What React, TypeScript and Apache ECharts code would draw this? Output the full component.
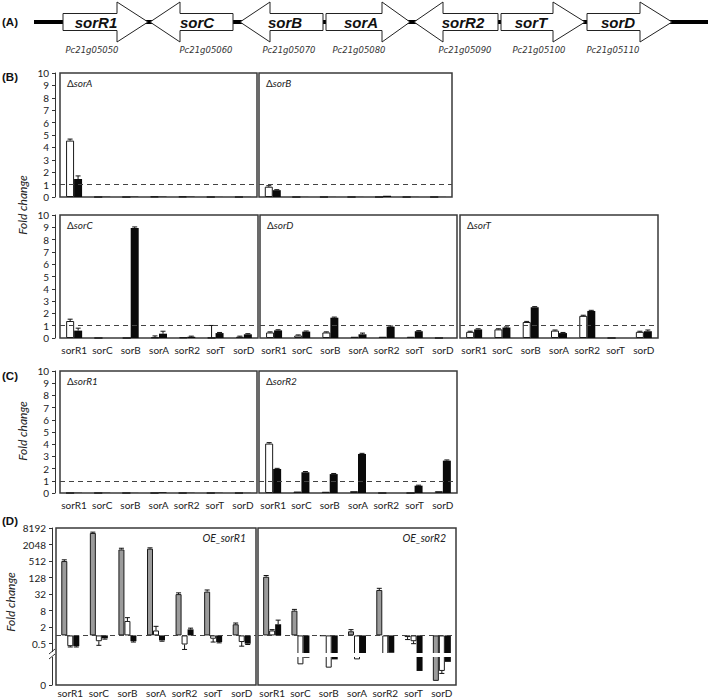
import React, { useEffect, useRef } from 'react';
import * as echarts from 'echarts';

// ---------- data ----------
const genes = ['sorR1', 'sorC', 'sorB', 'sorA', 'sorR2', 'sorT', 'sorD'];
const geneIds = ['Pc21g05050', 'Pc21g05060', 'Pc21g05070', 'Pc21g05080', 'Pc21g05090', 'Pc21g05100', 'Pc21g05110'];
const geneDirs = [1, -1, -1, 1, -1, 1, 1];
const logTickLabels = ['0.5', '2', '8', '32', '128', '512', '2048', '8192'];
const log2ZeroLevel = -6; // axis position drawn as "0" below the break

// (B) deletion mutants, fold change (white / black)
const dSorA_white = [4.55, 0, 0, 0.03, 0.03, 0, 0];
const dSorA_black = [1.45, 0.02, 0.03, 0.03, 0.03, 0.01, 0.01];
const dSorA_whiteErr = [0.12, 0, 0, 0, 0, 0, 0];
const dSorA_blackErr = [0.25, 0, 0, 0, 0, 0, 0];

const dSorB_white = [0.83, 0, 0, 0, 0, 0, 0];
const dSorB_black = [0.55, 0.01, 0.01, 0.01, 0.1, 0.01, 0.01];
const dSorB_whiteErr = [0.08, 0, 0, 0, 0, 0, 0];
const dSorB_blackErr = [0.04, 0, 0, 0, 0, 0, 0];

const dSorC_white = [1.38, 0, 0, 0.05, 0.05, 0.02, 0.1];
const dSorC_black = [0.6, 0, 8.95, 0.35, 0.1, 0.4, 0.3];
const dSorC_whiteErr = [0.15, 0, 0, 0.12, 0, 1.0, 0.05];
const dSorC_blackErr = [0.2, 0, 0.08, 0.2, 0.05, 0.05, 0.05];

const dSorD_white = [0.45, 0.2, 0.45, 0.1, 0.1, 0.1, 0];
const dSorD_black = [0.62, 0.52, 1.65, 0.3, 0.92, 0.55, 0];
const dSorD_whiteErr = [0.05, 0.05, 0.05, 0, 0, 0, 0];
const dSorD_blackErr = [0.05, 0.05, 0.05, 0.1, 0.05, 0.05, 0];

const dSorT_white = [0.5, 0.7, 1.3, 0.6, 1.8, 0, 0.5];
const dSorT_black = [0.7, 0.85, 2.5, 0.4, 2.2, 0, 0.55];
const dSorT_whiteErr = [0.05, 0.05, 0.05, 0.05, 0.05, 0, 0.05];
const dSorT_blackErr = [0.05, 0.05, 0.05, 0.05, 0.05, 0, 0.1];

// (C)
const dSorR1_white = [0, 0, 0, 0, 0, 0, 0];
const dSorR1_black = [0.02, 0.02, 0.01, 0.06, 0.02, 0.02, 0.01];
const dSorR1_whiteErr = [0, 0, 0, 0, 0, 0, 0];
const dSorR1_blackErr = [0, 0, 0, 0, 0, 0, 0];

const dSorR2_white = [4.05, 0.12, 0.1, 0.15, 0, 0, 0.15];
const dSorR2_black = [1.97, 1.7, 1.55, 3.2, 0, 0.6, 2.65];
const dSorR2_whiteErr = [0.08, 0, 0, 0, 0, 0, 0];
const dSorR2_blackErr = [0.05, 0.06, 0.05, 0.05, 0, 0.04, 0.06];

// (D) over-expression, log2 fold change (gray / white / black)
const oeR1_gray = [9, 12.4, 10.4, 10.5, 5.0, 5.3, 1.35];
const oeR1_white = [-1.3, -0.7, 1.75, 0.6, -1.1, -0.4, -0.8];
const oeR1_black = [-1.3, -0.35, -0.7, -0.6, 0.73, -0.8, -1.0];
const oeR1_grayErr = [0.15, 0.1, 0.15, 0.1, 0.15, 0.2, 0.15];
const oeR1_whiteErr = [0.1, 0.5, 0.4, 0.5, 0.6, 0.4, 0.5];
const oeR1_blackErr = [0.1, 0.1, 0.1, 0.1, 0.15, 0.1, 0.1];

const oeR2_gray = [7.1, 3.0, -0.05, 0.5, 5.5, -0.2, -5.5];
const oeR2_white = [0.6, -3.5, -3.9, -2.9, -2.6, -0.7, -4.3];
const oeR2_black = [1.35, -2.7, -2.9, -2.6, -2.1, -4.3, -3.2];
const oeR2_grayErr = [0.15, 0.15, 0, 0.2, 0.2, 0.3, 0];
const oeR2_whiteErr = [0.1, 0, 0, 0, 0, 0.3, 0.3];
const oeR2_blackErr = [0.5, 0, 0, 0, 0, 0, 0];

// ---------- layout ----------
type S = { vals: number[]; err: number[]; kind: 'white' | 'black' | 'gray' };
type P = { label: string; oe?: boolean; box: number[]; log?: boolean; yAxis: boolean; xLabels: boolean; series: S[] };

const panels: P[] = [
  { label: 'sorA', box: [60, 73, 197, 124], yAxis: true, xLabels: false, series: [
    { vals: dSorA_white, err: dSorA_whiteErr, kind: 'white' }, { vals: dSorA_black, err: dSorA_blackErr, kind: 'black' }] },
  { label: 'sorB', box: [259, 73, 193, 124], yAxis: false, xLabels: false, series: [
    { vals: dSorB_white, err: dSorB_whiteErr, kind: 'white' }, { vals: dSorB_black, err: dSorB_blackErr, kind: 'black' }] },
  { label: 'sorC', box: [60, 215, 198, 123], yAxis: true, xLabels: true, series: [
    { vals: dSorC_white, err: dSorC_whiteErr, kind: 'white' }, { vals: dSorC_black, err: dSorC_blackErr, kind: 'black' }] },
  { label: 'sorD', box: [260, 215, 197, 123], yAxis: false, xLabels: true, series: [
    { vals: dSorD_white, err: dSorD_whiteErr, kind: 'white' }, { vals: dSorD_black, err: dSorD_blackErr, kind: 'black' }] },
  { label: 'sorT', box: [460, 215, 198, 123], yAxis: false, xLabels: true, series: [
    { vals: dSorT_white, err: dSorT_whiteErr, kind: 'white' }, { vals: dSorT_black, err: dSorT_blackErr, kind: 'black' }] },
  { label: 'sorR1', box: [60, 371, 197, 122], yAxis: true, xLabels: true, series: [
    { vals: dSorR1_white, err: dSorR1_whiteErr, kind: 'white' }, { vals: dSorR1_black, err: dSorR1_blackErr, kind: 'black' }] },
  { label: 'sorR2', box: [259, 371, 198, 122], yAxis: false, xLabels: true, series: [
    { vals: dSorR2_white, err: dSorR2_whiteErr, kind: 'white' }, { vals: dSorR2_black, err: dSorR2_blackErr, kind: 'black' }] },
  { label: 'sorR1', oe: true, log: true, box: [56, 528, 200, 157], yAxis: true, xLabels: true, series: [
    { vals: oeR1_gray, err: oeR1_grayErr, kind: 'gray' }, { vals: oeR1_white, err: oeR1_whiteErr, kind: 'white' },
    { vals: oeR1_black, err: oeR1_blackErr, kind: 'black' }] },
  { label: 'sorR2', oe: true, log: true, box: [258, 528, 198, 157], yAxis: false, xLabels: true, series: [
    { vals: oeR2_gray, err: oeR2_grayErr, kind: 'gray' }, { vals: oeR2_white, err: oeR2_whiteErr, kind: 'white' },
    { vals: oeR2_black, err: oeR2_blackErr, kind: 'black' }] },
];

const FONT = 'Lato';
const kindStyle: Record<string, any> = {
  white: { color: '#ffffff', borderColor: '#1a1a1a', borderWidth: 1 },
  black: { color: '#0a0a0a' },
  gray: { color: '#9b9b9b', borderColor: '#1a1a1a', borderWidth: 1 },
};

// gene diagram geometry (panel A)
const arrowGeom = [
  { a: 63, b: 117, tip: 148, tx: 96, ix: 92 },
  { tip: 150, a: 180, b: 233, tx: 197, ix: 206 },
  { tip: 240, a: 270, b: 323, tx: 285, ix: 289 },
  { a: 326, b: 382, tip: 410, tx: 361, ix: 359 },
  { tip: 414, a: 443, b: 498, tx: 463, ix: 465 },
  { a: 501, b: 553, tip: 585, tx: 531, ix: 539 },
  { a: 587, b: 640, tip: 672, tx: 618, ix: 613 },
];

function buildOption() {
  const grid: any[] = [];
  const xAxis: any[] = [];
  const yAxis: any[] = [];
  const series: any[] = [];
  const title: any[] = [];

  panels.forEach((p, gi) => {
    const [l, t, w, h] = p.box;
    grid.push({ left: l, top: t, width: w, height: h, show: true, borderColor: '#3a3a3a', borderWidth: 1.5,
      backgroundColor: 'transparent', containLabel: false, outerBoundsMode: 'none' });
    xAxis.push({ type: 'category', gridIndex: gi, data: genes, boundaryGap: true,
      axisLine: { show: false }, axisTick: { show: false }, splitLine: { show: false },
      axisLabel: { show: p.xLabels, interval: 0, margin: p.log ? 3 : 7, fontSize: 10, fontFamily: FONT, color: '#222' } });
    const yBase: any = { type: 'value', gridIndex: gi, splitLine: { show: false } };
    if (p.log) {
      const custom = [log2ZeroLevel, ...logTickLabels.map((s) => Math.log2(parseFloat(s)))];
      Object.assign(yBase, { min: log2ZeroLevel, max: 13, interval: 1 });
      if (p.yAxis) Object.assign(yBase, {
        show: true, offset: 4,
        axisLine: { show: true, lineStyle: { color: '#333', width: 1 } },
        axisTick: { show: true, length: 3, customValues: custom, lineStyle: { color: '#333' } },
        axisLabel: { customValues: custom, margin: 6, fontSize: 10, fontFamily: FONT, color: '#222',
          formatter: (v: number) => {
            if (Math.abs(v - log2ZeroLevel) < 1e-6) return '0';
            const f = logTickLabels.find((s) => Math.abs(Math.log2(parseFloat(s)) - v) < 1e-6);
            return f ?? '';
          } },
      }); else yBase.show = false;
    } else {
      Object.assign(yBase, { min: 0, max: 10, interval: 1 });
      if (p.yAxis) Object.assign(yBase, {
        show: true, offset: 5,
        axisLine: { show: true, lineStyle: { color: '#333', width: 1 } },
        axisTick: { show: true, length: 3, lineStyle: { color: '#333' } },
        axisLabel: { margin: 6, fontSize: 10, fontFamily: FONT, color: '#222' },
      }); else yBase.show = false;
    }
    yAxis.push(yBase);

    const n = p.series.length;
    const bw = p.log ? 6 : 8;
    p.series.forEach((s, k) => {
      const bar: any = { type: 'bar', xAxisIndex: gi, yAxisIndex: gi, data: s.vals, barWidth: bw, barGap: '0%',
        itemStyle: kindStyle[s.kind], silent: true, z: 2 };
      if (k === 0) {
        bar.markLine = { silent: true, symbol: ['none', 'none'], label: { show: false },
          lineStyle: { type: [5, 4], color: '#444', width: 1 }, data: [{ yAxis: p.log ? 0 : 1 }] };
      }
      series.push(bar);
      const off = (k - (n - 1) / 2) * bw;
      series.push({
        type: 'custom', xAxisIndex: gi, yAxisIndex: gi, silent: true, z: 3,
        encode: { x: 0, y: 1 },
        data: s.vals.map((v, i) => [i, v, s.err[i]]),
        renderItem: (_params: any, api: any) => {
          const i = api.value(0), v = api.value(1), e = api.value(2);
          if (!e) return null;
          const sg = v < 0 ? -1 : 1;
          const p0 = api.coord([i, v]);
          const p1 = api.coord([i, v + sg * e]);
          const x = p0[0] + off;
          return { type: 'group', children: [
            { type: 'line', shape: { x1: x, y1: p0[1], x2: x, y2: p1[1] }, style: { stroke: '#111', lineWidth: 1 } },
            { type: 'line', shape: { x1: x - 2.5, y1: p1[1], x2: x + 2.5, y2: p1[1] }, style: { stroke: '#111', lineWidth: 1 } },
          ] };
        },
      });
    });

    const rich = {
      d: { fontSize: 10, fontFamily: FONT, color: '#222', fontStyle: 'normal', fontWeight: 'normal' },
      i: { fontSize: 10, fontFamily: FONT, color: '#222', fontStyle: 'italic', fontWeight: 'normal' },
    };
    if (p.oe) {
      title.push({ text: `{i|OE_${p.label}}`, right: 709 - (l + w) + 10, top: t + 4, padding: 0,
        textStyle: { fontWeight: 'normal', rich: { i: { ...rich.i, fontSize: 10.5 } } } });
    } else {
      title.push({ text: `{d|Δ}{i|${p.label}}`, left: l + 7, top: t + 5, padding: 0,
        textStyle: { fontWeight: 'normal', rich } });
    }
  });

  // ---- graphics: panel A gene map, panel letters, axis titles, axis break ----
  const cy = 22;
  const g: any[] = [];
  g.push({ type: 'line', z: 1, shape: { x1: 34, y1: cy, x2: 708, y2: cy }, style: { stroke: '#000', lineWidth: 4 } });
  arrowGeom.forEach((ag: any, i) => {
    let pts: number[][];
    if (geneDirs[i] > 0) {
      pts = [[ag.a, cy - 8.5], [ag.b, cy - 8.5], [ag.b, cy - 20], [ag.tip, cy], [ag.b, cy + 20], [ag.b, cy + 8.5], [ag.a, cy + 8.5]];
    } else {
      pts = [[ag.tip, cy], [ag.a, cy - 20], [ag.a, cy - 8.5], [ag.b, cy - 8.5], [ag.b, cy + 8.5], [ag.a, cy + 8.5], [ag.a, cy + 20]];
    }
    g.push({ type: 'polygon', z: 5, shape: { points: pts }, style: { fill: '#fff', stroke: '#222', lineWidth: 1 } });
    g.push({ type: 'text', z: 6, x: ag.tx, y: cy, style: { text: genes[i], font: 'italic bold 15px "Liberation Sans"',
      fill: '#111', align: 'center', verticalAlign: 'middle', textAlign: 'center', textVerticalAlign: 'middle' } });
    g.push({ type: 'text', z: 6, x: ag.ix, y: 50, style: { text: geneIds[i], font: 'italic 8.5px "DejaVu Sans"',
      fill: '#333', align: 'center', verticalAlign: 'middle', textAlign: 'center', textVerticalAlign: 'middle' } });
  });
  const letters = [['(A)', 22], ['(B)', 77], ['(C)', 376], ['(D)', 521]];
  letters.forEach(([s, y]) => g.push({ type: 'text', z: 6, x: 2, y, style: { text: s, font: 'bold 11.5px "Liberation Sans"',
    fill: '#111', align: 'left', verticalAlign: 'middle', textAlign: 'left', textVerticalAlign: 'middle' } }));
  const fc = [[22, 205], [22, 431], [10, 602]];
  fc.forEach(([x, y]) => g.push({ type: 'text', z: 6, x, y, rotation: Math.PI / 2, style: { text: 'Fold change',
    font: 'italic 12px Lato', fill: '#222', align: 'center', verticalAlign: 'middle', textAlign: 'center', textVerticalAlign: 'middle' } }));
  // axis break in (D)
  g.push({ type: 'rect', z: 100, shape: { x: 57, y: 653, width: 198, height: 4 }, style: { fill: '#fff' } });
  g.push({ type: 'rect', z: 100, shape: { x: 259, y: 653, width: 196, height: 4 }, style: { fill: '#fff' } });
  g.push({ type: 'rect', z: 100, shape: { x: 48, y: 652, width: 7, height: 5 }, style: { fill: '#fff' } });
  g.push({ type: 'line', z: 101, shape: { x1: 49, y1: 654, x2: 55, y2: 649 }, style: { stroke: '#333', lineWidth: 1 } });
  g.push({ type: 'line', z: 101, shape: { x1: 49, y1: 659, x2: 55, y2: 654 }, style: { stroke: '#333', lineWidth: 1 } });

  return { animation: false, backgroundColor: '#fff', title, grid, xAxis, yAxis, series, graphic: g };
}

export default function App() {
  const ref = useRef<HTMLDivElement>(null);
  useEffect(() => {
    if (!ref.current) return;
    const chart = echarts.init(ref.current, null, { renderer: 'svg' });
    chart.setOption(buildOption() as any);
    return () => chart.dispose();
  }, []);
  return <div ref={ref} style={{ position: 'fixed', left: 0, top: 0, width: 709, height: 698, background: '#fff' }} />;
}
